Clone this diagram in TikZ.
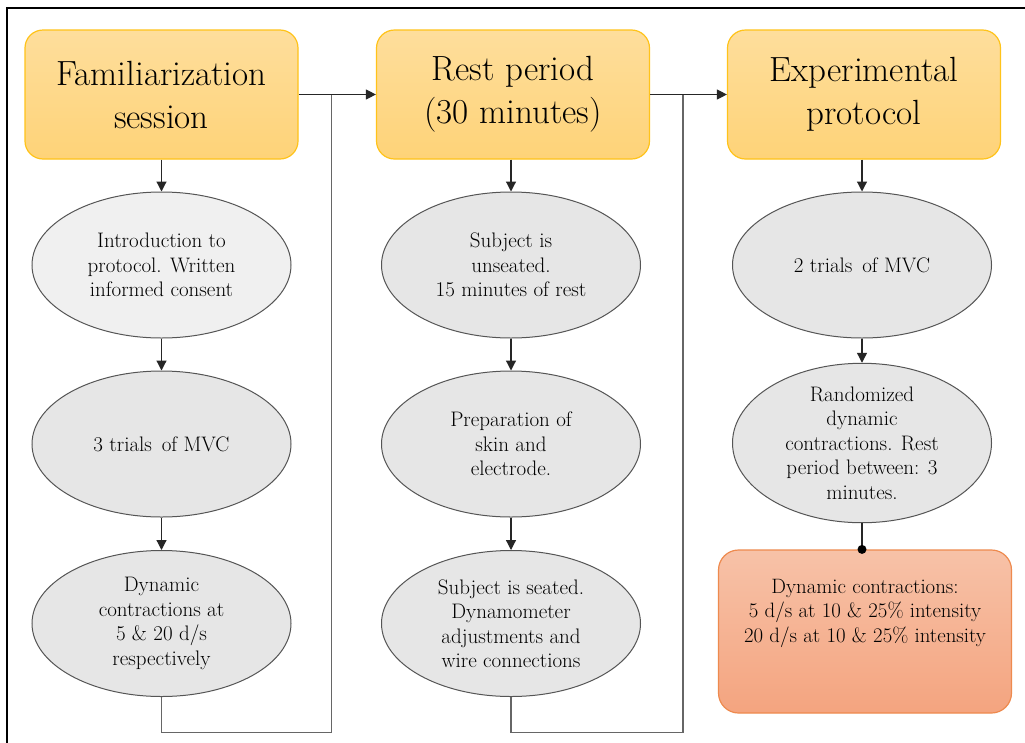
\documentclass[tikz,border=0pt]{standalone}
\usepackage{fontspec}
\usetikzlibrary{shapes.geometric,arrows.meta}
\definecolor{boxtop}{HTML}{FEDE9C}
\definecolor{boxbot}{HTML}{FED378}
\definecolor{boxline}{HTML}{FFC31A}
\definecolor{redtop}{HTML}{F7C2A8}
\definecolor{redbot}{HTML}{F4A47F}
\definecolor{redline}{HTML}{EE8A4E}
\definecolor{ellfill}{HTML}{E6E6E6}
\definecolor{ellfilllt}{HTML}{F0F0F0}
\definecolor{ellline}{HTML}{555555}
\definecolor{conn}{HTML}{666666}
\tikzset{
  headbox/.style={draw=boxline, line width=1.2pt, rounded corners=18pt,
    top color=boxtop, bottom color=boxbot, minimum width=273pt, minimum height=129pt,
    inner sep=0pt, align=center, font=\fontsize{35}{43}\selectfont},
  stepell/.style={ellipse, draw=ellline, line width=1pt, fill=ellfill,
    minimum width=259pt, minimum height=146pt, inner sep=0pt, align=center,
    font=\fontsize{21}{24.5}\selectfont},
  redbox/.style={draw=redline, line width=1.2pt, rounded corners=20pt,
    top color=redtop, bottom color=redbot, minimum width=293pt, minimum height=163pt, inner sep=0pt},
  txt/.style={align=center, inner sep=0pt, font=\fontsize{20.8}{24.5}\selectfont},
  arr/.style={draw=black!85, line width=1.2pt, -{Triangle[length=10pt,width=10pt]}},
  link/.style={draw=conn, line width=1.3pt},
}
\begin{document}
\begin{tikzpicture}[x=1pt,y=-1pt]
\useasboundingbox (0,0) rectangle (1025,742);
\fill[white] (0,0) rectangle (1025,742);
% frame
\draw[line width=2pt] (7,745) -- (7,8) -- (1030,8);

% header boxes
\node[headbox] (h1) at (161.5,94.5) {Familiarization\\session};
\node[headbox] (h2) at (513,94.5) {Rest period\\(30 minutes)};
\node[headbox] (h3) at (864,94.5) {Experimental\\protocol};

% column 1
\node[stepell, fill=ellfilllt] (a1) at (161.5,265) {Introduction to\\protocol. Written\\informed consent};
\node[stepell] (a2) at (161.5,444) {3 trials\, of MVC};
\node[stepell] (a3) at (161.5,623.5) {Dynamic\\contractions at\\5 \& 20 d/s\\respectively};

% column 2
\node[stepell] (b1) at (511,265) {Subject is\\unseated.\\15 minutes of rest};
\node[stepell] (b2) at (511,444) {Preparation of\\skin and\\electrode.};
\node[stepell] (b3) at (511,623.5) {Subject is seated.\\Dynamometer\\adjustments and\\wire connections};

% column 3
\node[stepell] (c1) at (862,265) {2 trials\, of MVC};
\node[stepell] (c2) at (862,443) {Randomized\\dynamic\\contractions. Rest\\period between: 3\\minutes.};
\node[redbox] (r) at (865,631.5) {};
\node[txt] (rt) at (865,613) {Dynamic contractions:\\5 d/s at 10 \& 25\% intensity\\20 d/s at 10 \& 25\% intensity};

% vertical arrows
\draw[arr] (h1.south) -- (a1.north);
\draw[arr] (a1.south) -- (a2.north);
\draw[arr] (a2.south) -- (a3.north);
\draw[arr] (h2.south -| b1.north) -- (b1.north);
\draw[arr] (b1.south) -- (b2.north);
\draw[arr] (b2.south) -- (b3.north);
\draw[arr] (h3.south -| c1.north) -- (c1.north);
\draw[arr] (c1.south) -- (c2.north);
\draw[link, draw=black!85] (c2.south) -- (r.north -| c2.south);
\fill[black] (r.north -| c2.south) circle (4.5pt);

% horizontal connectors
\coordinate (j1) at (331.7,94.5);
\coordinate (j2) at (683,94.5);
\draw[arr] (h1.east) -- (h2.west);
\draw[arr] (h2.east) -- (h3.west);
\coordinate (k1) at (331.7,732.7);
\coordinate (k2) at (683,732.7);
\draw[link] (a3.south) -- (a3.south |- k1) -- (k1) -- (j1);
\draw[link] (b3.south) -- (b3.south |- k2) -- (k2) -- (j2);
\end{tikzpicture}
\end{document}
